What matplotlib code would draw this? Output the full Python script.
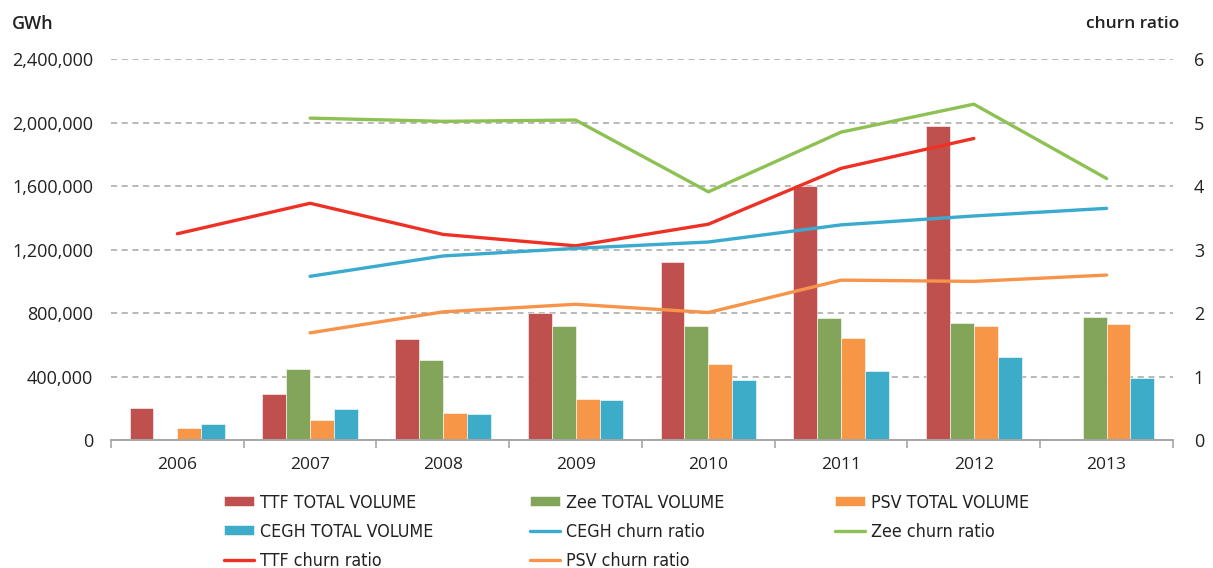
import numpy as np
import matplotlib.pyplot as plt
from matplotlib.ticker import FuncFormatter, FixedLocator

years = ['2006', '2007', '2008', '2009', '2010', '2011', '2012', '2013']

# total traded volume, GWh (nan = no data)
ttf_vol = [200000, 290000, 636000, 804000, 1121000, 1600000, 1978000, np.nan]
zee_vol = [np.nan, 447000, 504000, 720000, 722000, 768000, 741000, 773000]
psv_vol = [76000, 126000, 174000, 260000, 479000, 642000, 718000, 731000]
cegh_vol = [100000, 197000, 164000, 252000, 378000, 433000, 525000, 392000]

# churn ratios
ttf_churn = [3.25, 3.73, 3.24, 3.06, 3.40, 4.28, 4.75, np.nan]
zee_churn = [np.nan, 5.07, 5.02, 5.04, 3.91, 4.85, 5.29, 4.12]
cegh_churn = [np.nan, 2.58, 2.90, 3.02, 3.12, 3.39, 3.53, 3.65]
psv_churn = [np.nan, 1.69, 2.02, 2.14, 2.01, 2.52, 2.50, 2.60]

plt.rcParams['font.family'] = ['Open Sans', 'DejaVu Sans']

fig = plt.figure(figsize=(12.13, 5.68), dpi=100)
ax = fig.add_axes([0.0915, 0.225, 0.8755, 0.671])
ax2 = ax.twinx()

x = np.arange(len(years))
w = 0.18
bar_specs = [
    (ttf_vol, '#C0504D', 'TTF TOTAL VOLUME'),
    (zee_vol, '#82A55A', 'Zee TOTAL VOLUME'),
    (psv_vol, '#F79646', 'PSV TOTAL VOLUME'),
    (cegh_vol, '#3CACC8', 'CEGH TOTAL VOLUME'),
]
bars = []
for i, (vals, col, lbl) in enumerate(bar_specs):
    b = ax.bar(x + (i - 1.5) * w, vals, w, color=col, edgecolor='white',
               linewidth=0.4, label=lbl, zorder=2)
    bars.append(b)

line_specs = [
    (ttf_churn, '#EE3124', 'TTF churn ratio'),
    (zee_churn, '#8DC153', 'Zee churn ratio'),
    (cegh_churn, '#3AAACF', 'CEGH churn ratio'),
    (psv_churn, '#F7944A', 'PSV churn ratio'),
]
lines = {}
for vals, col, lbl in line_specs:
    ln, = ax2.plot(x, vals, color=col, lw=2.4, label=lbl,
                   solid_capstyle='round')
    lines[lbl] = ln

ax.set_xlim(-0.5, len(years) - 0.5)
ax.set_ylim(0, 2400000)
ax2.set_ylim(0, 6)
ax.set_yticks(np.arange(0, 2400001, 400000))
ax2.set_yticks(np.arange(0, 7, 1))
ax.yaxis.set_major_formatter(FuncFormatter(lambda v, p: f'{int(v):,}'))

ax.set_xticks(x)
ax.set_xticklabels(years)
ax.xaxis.set_minor_locator(FixedLocator(np.arange(-0.5, len(years), 1)))
ax.tick_params(axis='x', which='major', length=0, pad=12, labelsize=12.5,
               labelcolor='#222222')
ax.tick_params(axis='x', which='minor', length=6, color='#A6A6A6', width=1.2)
ax.tick_params(axis='y', length=0, pad=13, labelsize=13, labelcolor='#222222')
ax2.tick_params(axis='y', length=0, pad=15, labelsize=13, labelcolor='#222222')

ax.set_axisbelow(True)
ax.yaxis.grid(True, linestyle=(0, (4, 3)), color='#A6A6A6', lw=1.1)
for a in (ax, ax2):
    for s in ('top', 'left', 'right'):
        a.spines[s].set_visible(False)
    a.spines['bottom'].set_color('#A6A6A6')
    a.spines['bottom'].set_linewidth(1.2)
ax.patch.set_visible(False)

fig.text(0.010, 0.958, 'GWh', fontsize=13, fontweight='semibold',
         color='#222222', va='center')
fig.text(0.972, 0.958, 'churn ratio', fontsize=12.5, fontweight='semibold',
         color='#222222', va='center', ha='right')

# legend: one block per column so the columns sit at equal pitch
columns = [
    [bars[0], bars[3], lines['TTF churn ratio']],
    [bars[1], lines['CEGH churn ratio'], lines['PSV churn ratio']],
    [bars[2], lines['Zee churn ratio']],
]
col_x = [224 / 1213, 530 / 1213, 835 / 1213]
for hs, cx in zip(columns, col_x):
    leg = fig.legend(hs, [h.get_label() for h in hs], loc='upper left',
                     bbox_to_anchor=(cx, 0.131), frameon=False,
                     prop={'family': ['Liberation Sans Narrow', 'DejaVu Sans'],
                           'size': 12.8, 'stretch': 'condensed'},
                     handlelength=1.7, handleheight=0.5, handletextpad=0.3,
                     labelspacing=0.62, borderpad=0, borderaxespad=0)
    for t in leg.get_texts():
        t.set_color('#222222')

fig.savefig('out.png', dpi=100)
